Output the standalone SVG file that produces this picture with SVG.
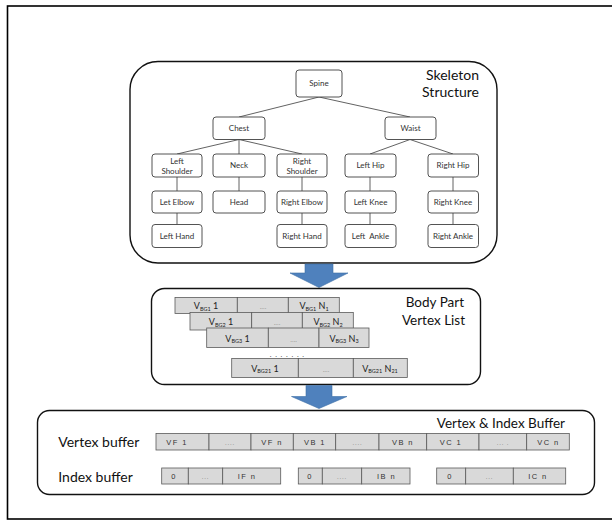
<svg xmlns="http://www.w3.org/2000/svg" width="612" height="521" viewBox="0 0 612 521">
<defs>
<style>
.frame{fill:none;stroke:#000;stroke-width:1.6}
.panel{fill:#fff;stroke:#111;stroke-width:1.4}
.node rect{fill:#fff;stroke:#404040;stroke-width:0.9}
.nt{font-family:Lato,"Liberation Sans",sans-serif;font-size:8px;fill:#333;text-anchor:middle}
.title{font-family:Lato,"Liberation Sans",sans-serif;font-size:14px;fill:#111;text-anchor:end}
.lbl{font-family:Lato,"Liberation Sans",sans-serif;font-size:14px;fill:#111}
.conn line{stroke:#505050;stroke-width:0.9}
.cell{fill:#d9d9d9;stroke:#5a5a5a;stroke-width:0.8}
.vt{font-family:Lato,"Liberation Sans",sans-serif;font-size:9px;fill:#222;text-anchor:middle}
.dt{font-family:"Liberation Sans",sans-serif;font-size:6px;fill:#666;text-anchor:middle}
.bt{font-family:"Liberation Sans",sans-serif;font-size:7.5px;fill:#333;text-anchor:middle;letter-spacing:1.4px}
.arrow{fill:#4f81bd;stroke:#3d6ea6;stroke-width:0.6}
</style>
</defs>
<rect class="frame" x="7.5" y="6" width="700" height="513"/>

<!-- Skeleton panel -->
<g id="skeleton-panel">
<rect class="panel" x="130" y="61.5" width="367" height="201.5" rx="28"/>
<text class="title" x="479" y="80">Skeleton</text>
<text class="title" x="479" y="97">Structure</text>
</g>

<g id="connectors" class="conn">
<line x1="319" y1="97" x2="239" y2="117"/>
<line x1="319" y1="97" x2="410" y2="117"/>
<line x1="239" y1="139.5" x2="177" y2="154"/>
<line x1="239" y1="139.5" x2="239" y2="154"/>
<line x1="239" y1="139.5" x2="302" y2="154"/>
<line x1="410" y1="139.5" x2="370" y2="154"/>
<line x1="410" y1="139.5" x2="453" y2="154"/>
<line x1="177" y1="177" x2="177" y2="191"/>
<line x1="177" y1="213" x2="177" y2="224.5"/>
<line x1="239" y1="177" x2="239" y2="191"/>
<line x1="302" y1="177" x2="302" y2="191"/>
<line x1="302" y1="213" x2="302" y2="224.5"/>
<line x1="370" y1="177" x2="370" y2="191"/>
<line x1="370" y1="213" x2="370" y2="224.5"/>
<line x1="453" y1="177" x2="453" y2="191"/>
<line x1="453" y1="213" x2="453" y2="224.5"/>
</g>

<g id="spine" class="node"><rect x="296" y="70" width="46" height="27" rx="3"/><text class="nt" x="319" y="86.3">Spine</text></g>
<g id="chest" class="node"><rect x="213" y="117" width="52" height="22.5" rx="3"/><text class="nt" x="239" y="131">Chest</text></g>
<g id="waist" class="node"><rect x="385" y="117" width="51" height="22.5" rx="3"/><text class="nt" x="410.5" y="131">Waist</text></g>

<g id="left-shoulder" class="node"><rect x="152" y="154" width="50" height="23" rx="3"/><text class="nt" x="177" y="164">Left</text><text class="nt" x="177" y="174">Shoulder</text></g>
<g id="neck" class="node"><rect x="213" y="154" width="52" height="23" rx="3"/><text class="nt" x="239" y="168.3">Neck</text></g>
<g id="right-shoulder" class="node"><rect x="277" y="154" width="50" height="23" rx="3"/><text class="nt" x="302" y="164">Right</text><text class="nt" x="302" y="174">Shoulder</text></g>
<g id="left-hip" class="node"><rect x="345" y="154" width="51" height="23" rx="3"/><text class="nt" x="370.5" y="168.3">Left Hip</text></g>
<g id="right-hip" class="node"><rect x="428" y="154" width="50.5" height="23" rx="3"/><text class="nt" x="453" y="168.3">Right Hip</text></g>

<g id="left-elbow" class="node"><rect x="152" y="191" width="50" height="22" rx="3"/><text class="nt" x="177" y="204.8">Let Elbow</text></g>
<g id="head" class="node"><rect x="213" y="191" width="52" height="22" rx="3"/><text class="nt" x="239" y="204.8">Head</text></g>
<g id="right-elbow" class="node"><rect x="277" y="191" width="50" height="22" rx="3"/><text class="nt" x="302" y="204.8">Right Elbow</text></g>
<g id="left-knee" class="node"><rect x="345" y="191" width="51" height="22" rx="3"/><text class="nt" x="370.5" y="204.8">Left Knee</text></g>
<g id="right-knee" class="node"><rect x="428" y="191" width="50.5" height="22" rx="3"/><text class="nt" x="453" y="204.8">Right Knee</text></g>

<g id="left-hand" class="node"><rect x="152" y="224.5" width="50" height="23" rx="3"/><text class="nt" x="177" y="238.8">Left Hand</text></g>
<g id="right-hand" class="node"><rect x="277" y="224.5" width="50" height="23" rx="3"/><text class="nt" x="302" y="238.8">Right Hand</text></g>
<g id="left-ankle" class="node"><rect x="345" y="224.5" width="51" height="23" rx="3"/><text class="nt" x="370.5" y="238.8" xml:space="preserve">Left  Ankle</text></g>
<g id="right-ankle" class="node"><rect x="428" y="224.5" width="50.5" height="23" rx="3"/><text class="nt" x="453" y="238.8">Right Ankle</text></g>

<!-- Arrow 1 -->
<polygon id="arrow1" class="arrow" points="305,264 333,264 333,273 348,273 319,287.5 290,273 305,273"/>

<!-- Body part vertex list -->
<g id="body-part-panel">
<rect class="panel" x="151.5" y="288.5" width="329" height="96" rx="13"/>
<text class="title" x="464" y="307" style="font-size:13.5px">Body Part</text>
<text class="title" x="465" y="324.5" style="font-size:13.5px">Vertex List</text>

<g id="row-bg1">
<rect class="cell" x="175" y="297.5" width="62.3" height="16"/>
<rect class="cell" x="237.3" y="297.5" width="51" height="16"/>
<rect class="cell" x="288.3" y="297.5" width="51" height="16"/>
<text class="vt" x="206" y="309">V<tspan font-size="5.5" dy="1.5">BG1</tspan><tspan dy="-1.5"> 1</tspan></text>
<text class="dt" x="263" y="309">....</text>
<text class="vt" x="314" y="309">V<tspan font-size="5.5" dy="1.5">BG1</tspan><tspan dy="-1.5"> N</tspan><tspan font-size="5.5" dy="1.5">1</tspan></text>
</g>
<g id="row-bg2">
<rect class="cell" x="190" y="312.5" width="61.7" height="17.5"/>
<rect class="cell" x="251.7" y="312.5" width="50.6" height="17.5"/>
<rect class="cell" x="302.3" y="312.5" width="51" height="17.5"/>
<text class="vt" x="221" y="325">V<tspan font-size="5.5" dy="1.5">BG2</tspan><tspan dy="-1.5"> 1</tspan></text>
<text class="dt" x="277" y="325">....</text>
<text class="vt" x="328" y="325">V<tspan font-size="5.5" dy="1.5">BG2</tspan><tspan dy="-1.5"> N</tspan><tspan font-size="5.5" dy="1.5">2</tspan></text>
</g>
<g id="row-bg3">
<rect class="cell" x="206.7" y="328" width="61.6" height="19.5"/>
<rect class="cell" x="268.3" y="328" width="50.7" height="19.5"/>
<rect class="cell" x="319" y="328" width="50" height="19.5"/>
<text class="vt" x="237.5" y="341.5">V<tspan font-size="5.5" dy="1.5">BG3</tspan><tspan dy="-1.5"> 1</tspan></text>
<text class="dt" x="293.7" y="341.5">....</text>
<text class="vt" x="344" y="341.5">V<tspan font-size="5.5" dy="1.5">BG3</tspan><tspan dy="-1.5"> N</tspan><tspan font-size="5.5" dy="1.5">3</tspan></text>
</g>
<text class="dt" x="288.5" y="356.5" style="font-size:8px;fill:#333;letter-spacing:3.2px">.......</text>
<g id="row-bg21">
<rect class="cell" x="231.7" y="358.5" width="66.6" height="19"/>
<rect class="cell" x="298.3" y="358.5" width="55" height="19"/>
<rect class="cell" x="353.3" y="358.5" width="54" height="19"/>
<text class="vt" x="265" y="371.5">V<tspan font-size="5.5" dy="1.5">BG21</tspan><tspan dy="-1.5"> 1</tspan></text>
<text class="dt" x="326" y="371.5">....</text>
<text class="vt" x="380" y="371.5">V<tspan font-size="5.5" dy="1.5">BG21</tspan><tspan dy="-1.5"> N</tspan><tspan font-size="5.5" dy="1.5">21</tspan></text>
</g>
</g>

<!-- Arrow 2 -->
<polygon id="arrow2" class="arrow" points="306,385.5 332,385.5 332,396.5 347,396.5 319,408.5 291.5,396.5 306,396.5"/>

<!-- Vertex & Index buffer -->
<g id="buffer-panel">
<rect class="panel" x="37.5" y="410.5" width="557" height="84" rx="12"/>
<text class="title" x="565" y="427.5" style="font-size:13.5px">Vertex &amp; Index Buffer</text>
<text class="lbl" x="58.3" y="446.7">Vertex buffer</text>
<text class="lbl" x="58.3" y="482.3">Index buffer</text>

<g id="vertex-buffer">
<rect class="cell" x="156" y="433.5" width="53" height="16.5"/>
<rect class="cell" x="209" y="433.5" width="42" height="16.5"/>
<rect class="cell" x="251" y="433.5" width="42.3" height="16.5"/>
<rect class="cell" x="293.3" y="433.5" width="42.4" height="16.5"/>
<rect class="cell" x="335.7" y="433.5" width="43.3" height="16.5"/>
<rect class="cell" x="379" y="433.5" width="47.7" height="16.5"/>
<rect class="cell" x="426.7" y="433.5" width="52.3" height="16.5"/>
<rect class="cell" x="479" y="433.5" width="47.7" height="16.5"/>
<rect class="cell" x="526.7" y="433.5" width="42.6" height="16.5"/>
<text class="bt" x="177" y="444.5">VF 1</text>
<text class="dt" x="230" y="444.5" style="letter-spacing:0.8px">....</text>
<text class="bt" x="272" y="444.5">VF n</text>
<text class="bt" x="315" y="444.5">VB 1</text>
<text class="dt" x="357.5" y="444.5" style="letter-spacing:0.8px">....</text>
<text class="bt" x="403" y="444.5">VB n</text>
<text class="bt" x="451" y="444.5">VC 1</text>
<text class="dt" x="503" y="444.5" style="letter-spacing:0.8px">... .</text>
<text class="bt" x="548.5" y="444.5">VC n</text>
</g>

<g id="index-buffer">
<rect class="cell" x="161.7" y="468" width="26.6" height="16"/>
<rect class="cell" x="188.3" y="468" width="34.4" height="16"/>
<rect class="cell" x="222.7" y="468" width="58" height="16"/>
<text class="bt" x="174" y="478.8">0</text>
<text class="dt" x="205.5" y="478.8" style="letter-spacing:0.8px">...</text>
<text class="bt" x="247" y="478.8">IF n</text>

<rect class="cell" x="298.3" y="468" width="24" height="16"/>
<rect class="cell" x="322.3" y="468" width="39.4" height="16"/>
<rect class="cell" x="361.7" y="468" width="48.3" height="16"/>
<text class="bt" x="310" y="478.8">0</text>
<text class="dt" x="342" y="478.8" style="letter-spacing:0.8px">....</text>
<text class="bt" x="386.5" y="478.8">IB n</text>

<rect class="cell" x="436.7" y="468" width="29" height="16"/>
<rect class="cell" x="465.7" y="468" width="47.6" height="16"/>
<rect class="cell" x="513.3" y="468" width="52.4" height="16"/>
<text class="bt" x="450" y="478.8">0</text>
<text class="dt" x="489.5" y="478.8" style="letter-spacing:0.8px">...</text>
<text class="bt" x="538" y="478.8">IC n</text>
</g>
</g>
</svg>
